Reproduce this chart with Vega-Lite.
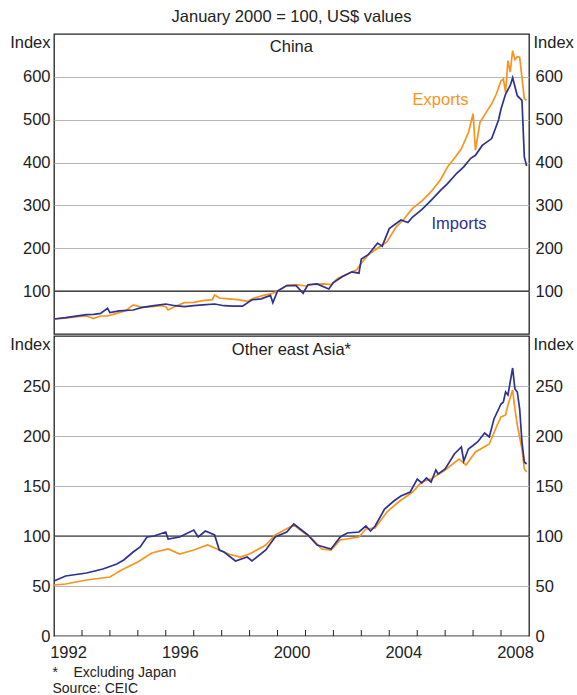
{
  "$schema": "https://vega.github.io/schema/vega-lite/v6.json",
  "padding": {"left": 8, "right": 1, "top": 8, "bottom": 0},
  "background": "white",
  "config": {
    "font": "Liberation Sans",
    "view": {"stroke": "#222222", "strokeWidth": 1.3},
    "axis": {"labelFont": "Liberation Sans", "labelFontSize": 16.5, "labelColor": "#222222", "titleFont": "Liberation Sans", "titleFontSize": 16.5, "titleFontWeight": "normal", "titleColor": "#222222", "domain": false, "ticks": false},
    "concat": {"spacing": 0},
    "title": {"font": "Liberation Sans", "fontSize": 16.5, "fontWeight": "normal", "color": "#222222"}
  },
  "title": {"text": "January 2000 = 100, US$ values", "offset": 8, "anchor": "middle"},
  "datasets": {
    "china": [
      {"series":"Exports","date":"1992-01","value":35},{"series":"Exports","date":"1992-06","value":37},{"series":"Exports","date":"1992-12","value":41},{"series":"Exports","date":"1993-03","value":42},{"series":"Exports","date":"1993-06","value":36},{"series":"Exports","date":"1993-09","value":42},{"series":"Exports","date":"1993-12","value":42},{"series":"Exports","date":"1994-04","value":48},{"series":"Exports","date":"1994-08","value":55},{"series":"Exports","date":"1994-11","value":68},{"series":"Exports","date":"1995-03","value":62},{"series":"Exports","date":"1995-07","value":64},{"series":"Exports","date":"1995-11","value":66},{"series":"Exports","date":"1996-01","value":64},{"series":"Exports","date":"1996-02","value":56},{"series":"Exports","date":"1996-05","value":64},{"series":"Exports","date":"1996-09","value":73},{"series":"Exports","date":"1997-01","value":74},{"series":"Exports","date":"1997-05","value":78},{"series":"Exports","date":"1997-09","value":80},{"series":"Exports","date":"1997-10","value":91},{"series":"Exports","date":"1997-12","value":84},{"series":"Exports","date":"1998-04","value":82},{"series":"Exports","date":"1998-08","value":80},{"series":"Exports","date":"1998-12","value":76},{"series":"Exports","date":"1999-03","value":84},{"series":"Exports","date":"1999-07","value":90},{"series":"Exports","date":"1999-11","value":95},{"series":"Exports","date":"2000-01","value":100},{"series":"Exports","date":"2000-05","value":113},{"series":"Exports","date":"2000-09","value":115},{"series":"Exports","date":"2001-01","value":112},{"series":"Exports","date":"2001-05","value":116},{"series":"Exports","date":"2001-09","value":117},{"series":"Exports","date":"2001-12","value":115},{"series":"Exports","date":"2002-03","value":130},{"series":"Exports","date":"2002-07","value":140},{"series":"Exports","date":"2002-11","value":150},{"series":"Exports","date":"2003-01","value":165},{"series":"Exports","date":"2003-04","value":185},{"series":"Exports","date":"2003-08","value":200},{"series":"Exports","date":"2003-12","value":215},{"series":"Exports","date":"2004-04","value":250},{"series":"Exports","date":"2004-07","value":266},{"series":"Exports","date":"2004-11","value":293},{"series":"Exports","date":"2005-03","value":310},{"series":"Exports","date":"2005-07","value":332},{"series":"Exports","date":"2005-11","value":360},{"series":"Exports","date":"2006-02","value":390},{"series":"Exports","date":"2006-05","value":410},{"series":"Exports","date":"2006-08","value":432},{"series":"Exports","date":"2006-11","value":470},{"series":"Exports","date":"2007-01","value":514},{"series":"Exports","date":"2007-02","value":429},{"series":"Exports","date":"2007-04","value":494},{"series":"Exports","date":"2007-07","value":520},{"series":"Exports","date":"2007-09","value":537},{"series":"Exports","date":"2007-11","value":560},{"series":"Exports","date":"2008-01","value":591},{"series":"Exports","date":"2008-02","value":595},{"series":"Exports","date":"2008-03","value":564},{"series":"Exports","date":"2008-04","value":638},{"series":"Exports","date":"2008-05","value":611},{"series":"Exports","date":"2008-06","value":661},{"series":"Exports","date":"2008-07","value":640},{"series":"Exports","date":"2008-08","value":647},{"series":"Exports","date":"2008-09","value":646},{"series":"Exports","date":"2008-11","value":549},{"series":"Exports","date":"2008-12","value":545},
      {"series":"Imports","date":"1992-01","value":35},{"series":"Imports","date":"1992-06","value":38},{"series":"Imports","date":"1992-12","value":43},{"series":"Imports","date":"1993-03","value":45},{"series":"Imports","date":"1993-06","value":46},{"series":"Imports","date":"1993-09","value":48},{"series":"Imports","date":"1993-12","value":60},{"series":"Imports","date":"1994-01","value":50},{"series":"Imports","date":"1994-05","value":54},{"series":"Imports","date":"1994-11","value":56},{"series":"Imports","date":"1995-03","value":62},{"series":"Imports","date":"1995-08","value":66},{"series":"Imports","date":"1996-01","value":70},{"series":"Imports","date":"1996-05","value":66},{"series":"Imports","date":"1996-09","value":64},{"series":"Imports","date":"1997-01","value":66},{"series":"Imports","date":"1997-05","value":68},{"series":"Imports","date":"1997-10","value":70},{"series":"Imports","date":"1998-02","value":66},{"series":"Imports","date":"1998-06","value":65},{"series":"Imports","date":"1998-10","value":65},{"series":"Imports","date":"1999-02","value":80},{"series":"Imports","date":"1999-06","value":82},{"series":"Imports","date":"1999-10","value":90},{"series":"Imports","date":"1999-11","value":73},{"series":"Imports","date":"2000-01","value":100},{"series":"Imports","date":"2000-05","value":113},{"series":"Imports","date":"2000-09","value":113},{"series":"Imports","date":"2000-12","value":95},{"series":"Imports","date":"2001-02","value":115},{"series":"Imports","date":"2001-06","value":117},{"series":"Imports","date":"2001-11","value":105},{"series":"Imports","date":"2002-01","value":120},{"series":"Imports","date":"2002-05","value":134},{"series":"Imports","date":"2002-09","value":145},{"series":"Imports","date":"2002-12","value":142},{"series":"Imports","date":"2003-01","value":175},{"series":"Imports","date":"2003-04","value":185},{"series":"Imports","date":"2003-08","value":212},{"series":"Imports","date":"2003-10","value":205},{"series":"Imports","date":"2004-01","value":246},{"series":"Imports","date":"2004-06","value":266},{"series":"Imports","date":"2004-09","value":260},{"series":"Imports","date":"2004-11","value":273},{"series":"Imports","date":"2005-03","value":290},{"series":"Imports","date":"2005-07","value":312},{"series":"Imports","date":"2005-11","value":335},{"series":"Imports","date":"2006-02","value":351},{"series":"Imports","date":"2006-06","value":375},{"series":"Imports","date":"2006-09","value":390},{"series":"Imports","date":"2006-12","value":410},{"series":"Imports","date":"2007-02","value":417},{"series":"Imports","date":"2007-05","value":440},{"series":"Imports","date":"2007-09","value":456},{"series":"Imports","date":"2007-12","value":500},{"series":"Imports","date":"2008-01","value":525},{"series":"Imports","date":"2008-03","value":560},{"series":"Imports","date":"2008-05","value":580},{"series":"Imports","date":"2008-06","value":598},{"series":"Imports","date":"2008-08","value":556},{"series":"Imports","date":"2008-10","value":545},{"series":"Imports","date":"2008-11","value":413},{"series":"Imports","date":"2008-12","value":392}
    ],
    "asia": [
      {"series":"Exports","date":"1992-01","value":51},{"series":"Exports","date":"1992-06","value":52},{"series":"Exports","date":"1993-03","value":56},{"series":"Exports","date":"1994-01","value":59},{"series":"Exports","date":"1994-06","value":66},{"series":"Exports","date":"1995-01","value":74},{"series":"Exports","date":"1995-07","value":83},{"series":"Exports","date":"1996-02","value":87},{"series":"Exports","date":"1996-07","value":82},{"series":"Exports","date":"1997-01","value":86},{"series":"Exports","date":"1997-07","value":91},{"series":"Exports","date":"1997-12","value":86},{"series":"Exports","date":"1998-04","value":82},{"series":"Exports","date":"1998-09","value":79},{"series":"Exports","date":"1999-01","value":82},{"series":"Exports","date":"1999-08","value":91},{"series":"Exports","date":"1999-12","value":101},{"series":"Exports","date":"2000-08","value":111},{"series":"Exports","date":"2001-04","value":97},{"series":"Exports","date":"2001-08","value":87},{"series":"Exports","date":"2001-12","value":86},{"series":"Exports","date":"2002-04","value":96},{"series":"Exports","date":"2002-12","value":99},{"series":"Exports","date":"2003-03","value":107},{"series":"Exports","date":"2003-07","value":108},{"series":"Exports","date":"2003-12","value":124},{"series":"Exports","date":"2004-05","value":134},{"series":"Exports","date":"2004-11","value":144},{"series":"Exports","date":"2005-03","value":154},{"series":"Exports","date":"2005-07","value":157},{"series":"Exports","date":"2006-01","value":166},{"series":"Exports","date":"2006-07","value":177},{"series":"Exports","date":"2006-10","value":171},{"series":"Exports","date":"2007-02","value":184},{"series":"Exports","date":"2007-08","value":192},{"series":"Exports","date":"2007-11","value":209},{"series":"Exports","date":"2008-01","value":219},{"series":"Exports","date":"2008-03","value":221},{"series":"Exports","date":"2008-04","value":231},{"series":"Exports","date":"2008-06","value":246},{"series":"Exports","date":"2008-07","value":227},{"series":"Exports","date":"2008-08","value":211},{"series":"Exports","date":"2008-10","value":187},{"series":"Exports","date":"2008-11","value":167},{"series":"Exports","date":"2008-12","value":164},
      {"series":"Imports","date":"1992-01","value":55},{"series":"Imports","date":"1992-06","value":60},{"series":"Imports","date":"1993-03","value":63},{"series":"Imports","date":"1993-10","value":67},{"series":"Imports","date":"1994-04","value":72},{"series":"Imports","date":"1994-07","value":76},{"series":"Imports","date":"1994-11","value":84},{"series":"Imports","date":"1995-02","value":89},{"series":"Imports","date":"1995-05","value":99},{"series":"Imports","date":"1995-08","value":100},{"series":"Imports","date":"1996-01","value":104},{"series":"Imports","date":"1996-02","value":97},{"series":"Imports","date":"1996-07","value":99},{"series":"Imports","date":"1997-01","value":106},{"series":"Imports","date":"1997-03","value":99},{"series":"Imports","date":"1997-06","value":105},{"series":"Imports","date":"1997-10","value":101},{"series":"Imports","date":"1997-12","value":86},{"series":"Imports","date":"1998-02","value":84},{"series":"Imports","date":"1998-07","value":75},{"series":"Imports","date":"1998-12","value":79},{"series":"Imports","date":"1999-02","value":75},{"series":"Imports","date":"1999-08","value":86},{"series":"Imports","date":"1999-12","value":99},{"series":"Imports","date":"2000-05","value":104},{"series":"Imports","date":"2000-08","value":112},{"series":"Imports","date":"2001-02","value":101},{"series":"Imports","date":"2001-06","value":91},{"series":"Imports","date":"2001-12","value":87},{"series":"Imports","date":"2002-04","value":99},{"series":"Imports","date":"2002-07","value":103},{"series":"Imports","date":"2002-12","value":104},{"series":"Imports","date":"2003-03","value":110},{"series":"Imports","date":"2003-05","value":105},{"series":"Imports","date":"2003-07","value":110},{"series":"Imports","date":"2003-11","value":127},{"series":"Imports","date":"2004-03","value":135},{"series":"Imports","date":"2004-06","value":140},{"series":"Imports","date":"2004-10","value":144},{"series":"Imports","date":"2005-01","value":157},{"series":"Imports","date":"2005-03","value":153},{"series":"Imports","date":"2005-05","value":158},{"series":"Imports","date":"2005-07","value":154},{"series":"Imports","date":"2005-09","value":166},{"series":"Imports","date":"2005-10","value":162},{"series":"Imports","date":"2006-01","value":167},{"series":"Imports","date":"2006-05","value":182},{"series":"Imports","date":"2006-08","value":189},{"series":"Imports","date":"2006-09","value":175},{"series":"Imports","date":"2006-11","value":187},{"series":"Imports","date":"2007-03","value":194},{"series":"Imports","date":"2007-06","value":203},{"series":"Imports","date":"2007-08","value":199},{"series":"Imports","date":"2007-10","value":217},{"series":"Imports","date":"2008-01","value":232},{"series":"Imports","date":"2008-02","value":234},{"series":"Imports","date":"2008-03","value":244},{"series":"Imports","date":"2008-04","value":241},{"series":"Imports","date":"2008-06","value":268},{"series":"Imports","date":"2008-07","value":247},{"series":"Imports","date":"2008-08","value":244},{"series":"Imports","date":"2008-09","value":227},{"series":"Imports","date":"2008-10","value":194},{"series":"Imports","date":"2008-11","value":174},{"series":"Imports","date":"2008-12","value":172}
    ],
    "yearticks": [
      {"date":"1993-01-01"},{"date":"1994-01-01"},{"date":"1995-01-01"},{"date":"1996-01-01"},{"date":"1997-01-01"},{"date":"1998-01-01"},{"date":"1999-01-01"},{"date":"2000-01-01"},{"date":"2001-01-01"},{"date":"2002-01-01"},{"date":"2003-01-01"},{"date":"2004-01-01"},{"date":"2005-01-01"},{"date":"2006-01-01"},{"date":"2007-01-01"},{"date":"2008-01-01"}
    ]
  },
  "vconcat": [
    {
      "width": 475,
      "height": 300,
      "layer": [
        {
          "data": {"values": [{}]},
          "mark": {"type": "rule", "color": "#222222", "strokeWidth": 1.2},
          "encoding": {
            "y": {"datum": 100, "type": "quantitative", "scale": {"domain": [0, 700], "nice": false},
                  "axis": {"orient": "right", "values": [100, 200, 300, 400, 500, 600], "grid": false, "labelPadding": 6, "title": "Index", "titleAngle": 0, "titleAlign": "left", "titleBaseline": "middle", "titleX": 4, "titleY": 8.5}}
          }
        },
        {
          "data": {"name": "china"},
          "mark": {"type": "line", "strokeWidth": 1.7},
          "encoding": {
            "x": {"field": "date", "type": "temporal", "scale": {"type": "utc", "domain": [{"year": 1992, "month": 1, "date": 1, "utc": true}, {"year": 2009, "month": 1, "date": 1, "utc": true}]}, "axis": null},
            "y": {"field": "value", "type": "quantitative", "scale": {"domain": [0, 700], "nice": false},
                  "axis": {"orient": "left", "values": [100, 200, 300, 400, 500, 600], "grid": true, "gridColor": "#b5b5b5", "gridWidth": 1, "labelPadding": 4, "title": "Index", "titleAngle": 0, "titleAlign": "right", "titleBaseline": "middle", "titleX": -4, "titleY": 8.5}},
            "color": {"field": "series", "type": "nominal", "scale": {"domain": ["Exports", "Imports"], "range": ["#F7941D", "#2E3192"]}, "legend": null}
          }
        },
        {
          "data": {"values": [
            {"label": "Exports", "date": "2005-11", "value": 545, "color": "#F7941D"},
            {"label": "Imports", "date": "2006-07", "value": 256, "color": "#2E3192"},
            {"label": "China", "date": "2000-07", "value": 670, "color": "#222222"}
          ]},
          "mark": {"type": "text", "fontSize": 16.5, "font": "Liberation Sans", "baseline": "middle"},
          "encoding": {
            "x": {"field": "date", "type": "temporal", "axis": null},
            "y": {"field": "value", "type": "quantitative", "axis": null},
            "text": {"field": "label"},
            "color": {"field": "color", "type": "nominal", "scale": null}
          }
        }
      ],
      "resolve": {"axis": {"y": "independent"}}
    },
    {
      "width": 475,
      "height": 300,
      "layer": [
        {
          "data": {"values": [{}]},
          "mark": {"type": "rule", "color": "#222222", "strokeWidth": 1.2},
          "encoding": {
            "y": {"datum": 100, "type": "quantitative", "scale": {"domain": [0, 300], "nice": false},
                  "axis": {"orient": "right", "values": [0, 50, 100, 150, 200, 250], "grid": false, "labelPadding": 6, "title": "Index", "titleAngle": 0, "titleAlign": "left", "titleBaseline": "middle", "titleX": 4, "titleY": 8.5}}
          }
        },
        {
          "data": {"name": "yearticks"},
          "mark": {"type": "rule", "color": "#222222", "strokeWidth": 1},
          "encoding": {
            "x": {"field": "date", "type": "temporal"},
            "y": {"datum": 0, "type": "quantitative", "axis": null},
            "y2": {"datum": 6}
          }
        },
        {
          "data": {"name": "asia"},
          "mark": {"type": "line", "strokeWidth": 1.7},
          "encoding": {
            "x": {"field": "date", "type": "temporal", "scale": {"type": "utc", "domain": [{"year": 1992, "month": 1, "date": 1, "utc": true}, {"year": 2009, "month": 1, "date": 1, "utc": true}]},
                  "axis": {
                    "values": [{"year":1992,"month":1,"date":1,"utc":true},{"year":1996,"month":1,"date":1,"utc":true},{"year":2000,"month":1,"date":1,"utc":true},{"year":2004,"month":1,"date":1,"utc":true},{"year":2008,"month":1,"date":1,"utc":true}],
                    "labelExpr": "'' + utcyear(datum.value)",
                    "labelOffset": 14,
                    "labelAlign": "center",
                    "labelOverlap": false,
                    "labelFlush": false,
                    "labelPadding": 8,
                    "ticks": false,
                    "grid": false,
                    "title": ["*\u00a0\u00a0\u00a0\u00a0Excluding Japan", "Source: CEIC"],
                    "titleFontSize": 14,
                    "titleAnchor": "start",
                    "titleAlign": "left",
                    "titleBaseline": "top",
                    "titleX": -2,
                    "titleY": 29,
                    "titleLineHeight": 16.5
                  }},
            "y": {"field": "value", "type": "quantitative", "scale": {"domain": [0, 300], "nice": false},
                  "axis": {"orient": "left", "values": [0, 50, 100, 150, 200, 250], "grid": true, "gridColor": "#b5b5b5", "gridWidth": 1, "labelPadding": 4, "title": "Index", "titleAngle": 0, "titleAlign": "right", "titleBaseline": "middle", "titleX": -4, "titleY": 8.5}},
            "color": {"field": "series", "type": "nominal", "scale": {"domain": ["Exports", "Imports"], "range": ["#F7941D", "#2E3192"]}, "legend": null}
          }
        },
        {
          "data": {"values": [{"label": "Other east Asia*", "date": "2000-07", "value": 286}]},
          "mark": {"type": "text", "fontSize": 16.5, "font": "Liberation Sans", "baseline": "middle", "color": "#222222"},
          "encoding": {
            "x": {"field": "date", "type": "temporal"},
            "y": {"field": "value", "type": "quantitative", "axis": null},
            "text": {"field": "label"}
          }
        }
      ],
      "resolve": {"axis": {"y": "independent"}}
    }
  ]
}
